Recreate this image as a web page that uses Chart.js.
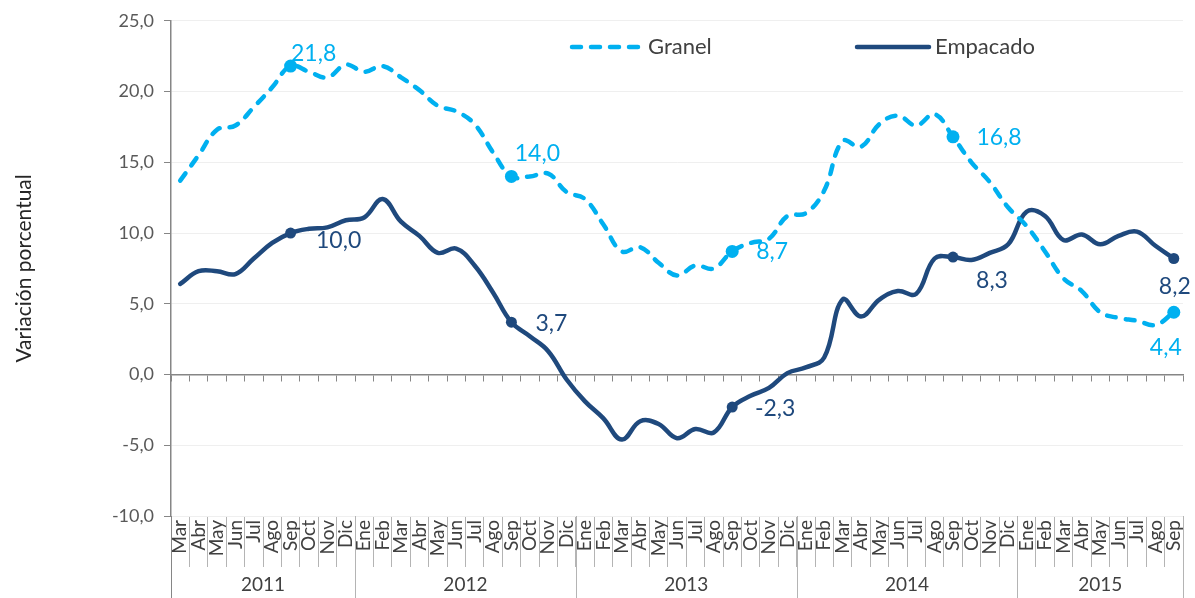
<!DOCTYPE html>
<html>
<head>
<meta charset="utf-8">
<script src="https://cdn.jsdelivr.net/npm/chart.js@4.4.1/dist/chart.umd.min.js"></script>
<style>
  html, body { margin: 0; padding: 0; background: #fff; }
  #wrap { width: 1195px; height: 598px; }
</style>
</head>
<body>
<div id="wrap"><canvas id="priceChart"></canvas></div>
<script>
// Monthly categories, Mar 2011 - Sep 2015
const monthLabels = [
    'Mar', 'Abr', 'May', 'Jun', 'Jul', 'Ago', 'Sep', 'Oct', 'Nov', 'Dic',
    'Ene', 'Feb', 'Mar', 'Abr', 'May', 'Jun', 'Jul', 'Ago', 'Sep', 'Oct', 'Nov', 'Dic',
    'Ene', 'Feb', 'Mar', 'Abr', 'May', 'Jun', 'Jul', 'Ago', 'Sep', 'Oct', 'Nov', 'Dic',
    'Ene', 'Feb', 'Mar', 'Abr', 'May', 'Jun', 'Jul', 'Ago', 'Sep', 'Oct', 'Nov', 'Dic',
    'Ene', 'Feb', 'Mar', 'Abr', 'May', 'Jun', 'Jul', 'Ago', 'Sep'
];
const yearLabels = ['2011', '2012', '2013', '2014', '2015'];
const monthsPerYear = [10, 12, 12, 12, 9];

const granel = [
    13.7, 15.5, 17.3, 17.6, 18.9, 20.3, 21.8, 21.4, 21.0, 21.9,
    21.4, 21.8, 21.0, 20.1, 19.0, 18.6, 17.7, 15.7, 14.0, 14.0, 14.2, 12.9,
    12.4, 10.6, 8.7, 9.0, 7.9, 7.0, 7.7, 7.5, 8.7, 9.3, 9.6, 11.2,
    11.4, 13.0, 16.5, 16.1, 17.7, 18.3, 17.6, 18.4, 16.8, 15.0, 13.6, 11.8,
    10.5, 8.7, 6.8, 5.9, 4.4, 4.0, 3.8, 3.5, 4.4
];
const empacado = [
    6.4, 7.3, 7.3, 7.1, 8.2, 9.3, 10.0, 10.3, 10.4, 10.9,
    11.1, 12.4, 10.8, 9.8, 8.6, 8.9, 7.7, 5.8, 3.7, 2.7, 1.65, -0.35,
    -1.9, -3.1, -4.6, -3.3, -3.5, -4.5, -3.85, -4.1, -2.3, -1.5, -0.95, 0.1,
    0.5, 1.2, 5.3, 4.1, 5.3, 5.9, 5.7, 8.2, 8.3, 8.1, 8.6, 9.2,
    11.5, 11.2, 9.5, 9.9, 9.2, 9.8, 10.1, 9.1, 8.2
];
// September of each year gets a marker and a value label
const markedPoints = [6, 18, 30, 42, 54];

const FONT = 'Lato, "Open Sans", sans-serif';
const GRANEL_COLOR = '#00B0F0';
const EMPACADO_COLOR = '#1F497D';
const AXIS_COLOR = '#868686';

function fmt(v) {
    return v.toFixed(1).replace('.', ',');
}

function markerRadius(r) {
    return function(ctx) {
        return markedPoints.includes(ctx.dataIndex) ? r : 0;
    };
}

// Year groups, value labels and legend drawn on top of the chart
const decorations = {
    id: 'decorations',
    afterDraw(chart, args, opts) {
        const ctx = chart.ctx;
        const area = chart.chartArea;
        const x = chart.scales.x;
        const step = x.getPixelForValue(1) - x.getPixelForValue(0);
        ctx.save();

        // year separators + labels
        ctx.lineWidth = 1;
        ctx.font = '19px ' + FONT;
        ctx.fillStyle = '#404040';
        ctx.textAlign = 'center';
        ctx.textBaseline = 'middle';
        let start = 0;
        yearLabels.forEach(function(yr, g) {
            const n = monthsPerYear[g];
            const left = x.getPixelForValue(start) - step / 2;
            const right = x.getPixelForValue(start + n - 1) + step / 2;
            [left, right].forEach(function(px, k) {
                ctx.strokeStyle = (g === 0 && k === 0) ? AXIS_COLOR : '#b4b4b4';
                ctx.beginPath();
                ctx.moveTo(Math.round(px) + 0.5, area.bottom);
                ctx.lineTo(Math.round(px) + 0.5, chart.height);
                ctx.stroke();
            });
            ctx.fillText(yr, (left + right) / 2, chart.height - opts.yearOffset);
            start += n;
        });

        // value labels
        ctx.font = '23px ' + FONT;
        chart.data.datasets.forEach(function(ds, di) {
            const meta = chart.getDatasetMeta(di);
            ctx.fillStyle = ds.borderColor;
            markedPoints.forEach(function(idx, k) {
                const pt = meta.data[idx];
                const off = opts.labelOffsets[di][k];
                ctx.fillText(fmt(ds.data[idx]), pt.x + off[0], pt.y + off[1]);
            });
        });

        // legend
        ctx.font = '22px ' + FONT;
        ctx.textAlign = 'left';
        chart.data.datasets.forEach(function(ds, di) {
            const item = opts.legendItems[di];
            ctx.strokeStyle = ds.borderColor;
            ctx.lineWidth = ds.borderWidth;
            ctx.lineCap = ds.borderCapStyle || 'butt';
            ctx.setLineDash(ds.borderDash || []);
            ctx.beginPath();
            ctx.moveTo(item.x, opts.legendY);
            ctx.lineTo(item.x + item.w, opts.legendY);
            ctx.stroke();
            ctx.setLineDash([]);
            ctx.fillStyle = '#404040';
            ctx.fillText(ds.label, item.x + item.w + 6, opts.legendY);
        });
        ctx.restore();
    }
};

const chartCtx = document.getElementById('priceChart');
new Chart(chartCtx.getContext('2d'), {
    type: 'line',
    data: {
        labels: monthLabels,
        datasets: [{
            label: 'Granel',
            data: granel,
            borderColor: GRANEL_COLOR,
            backgroundColor: GRANEL_COLOR,
            borderWidth: 4.5,
            borderDash: [9, 10],
            borderCapStyle: 'round',
            tension: 0.4,
            fill: false,
            pointRadius: markerRadius(6.5),
            pointHoverRadius: 0,
            pointBorderWidth: 0
        }, {
            label: 'Empacado',
            data: empacado,
            borderColor: EMPACADO_COLOR,
            backgroundColor: EMPACADO_COLOR,
            borderWidth: 4.5,
            borderCapStyle: 'round',
            tension: 0.4,
            fill: false,
            pointRadius: markerRadius(5.5),
            pointHoverRadius: 0,
            pointBorderWidth: 0
        }]
    },
    options: {
        responsive: true,
        maintainAspectRatio: false,
        animation: false,
        events: [],
        layout: {
            padding: { left: 0, right: 12, top: 16, bottom: 0 }
        },
        plugins: {
            legend: { display: false },
            tooltip: { enabled: false },
            decorations: {
                yearOffset: 13,
                legendY: 47,
                legendItems: [{ x: 572, w: 70 }, { x: 857, w: 72 }],
                labelOffsets: [
                    [[23, -12], [26, -23], [40, 0], [46, 1], [-8, 35]],
                    [[48, 8], [40, 1], [43, 2], [39, 23], [1, 28]]
                ]
            }
        },
        scales: {
            x: {
                type: 'category',
                position: 'bottom',
                offset: true,
                grid: {
                    display: true,
                    drawOnChartArea: false,
                    drawTicks: true,
                    tickLength: 51,
                    offset: true,
                    color: '#b4b4b4'
                },
                border: { display: false },
                ticks: {
                    autoSkip: false,
                    maxRotation: 90,
                    minRotation: 90,
                    padding: -47,
                    color: '#404040',
                    font: { family: FONT, size: 19 }
                },
                afterFit: function(scale) {
                    scale.height = 82;
                }
            },
            x0: {
                type: 'category',
                labels: monthLabels,
                position: { y: 0 },
                offset: true,
                grid: {
                    drawOnChartArea: false,
                    offset: true,
                    tickLength: 6,
                    color: AXIS_COLOR
                },
                border: { color: AXIS_COLOR, width: 1.5 },
                ticks: { display: false }
            },
            y: {
                min: -10,
                max: 25,
                ticks: {
                    stepSize: 5,
                    padding: 10,
                    color: '#595959',
                    font: { family: FONT, size: 18 },
                    callback: function(v) { return fmt(v); }
                },
                grid: {
                    color: '#efefef',
                    tickColor: AXIS_COLOR,
                    tickLength: 7
                },
                border: { color: AXIS_COLOR, width: 1.5 },
                title: {
                    display: true,
                    text: 'Variación porcentual',
                    color: '#262626',
                    font: { family: FONT, size: 21 },
                    padding: { top: 12, bottom: 0 }
                },
                afterFit: function(scale) {
                    scale.width = 171;
                }
            }
        }
    },
    plugins: [decorations]
});
</script>
</body>
</html>
